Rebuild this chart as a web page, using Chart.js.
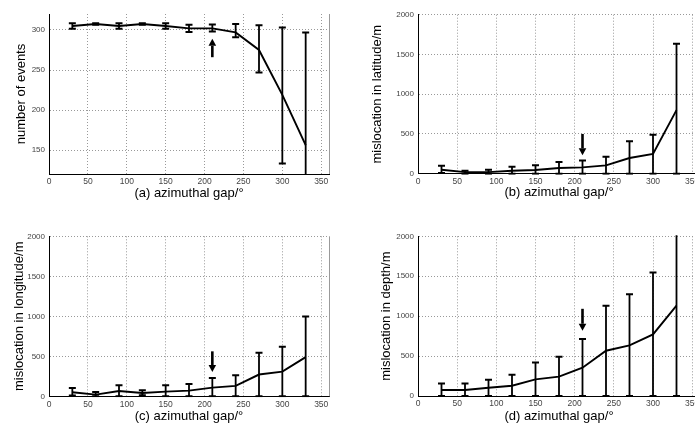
<!DOCTYPE html>
<html><head><meta charset="utf-8">
<script src="https://cdn.jsdelivr.net/npm/chart.js@4"></script>
<style>
html,body{margin:0;padding:0;background:#fff;overflow:hidden;width:695px;height:424px;position:relative;}
canvas{position:absolute;}
</style></head><body>
<canvas id="ca" width="345" height="212" style="left:0;top:0"></canvas>
<canvas id="cb" width="360" height="212" style="left:345px;top:0"></canvas>
<canvas id="cc" width="345" height="212" style="left:0;top:212px"></canvas>
<canvas id="cd" width="360" height="212" style="left:345px;top:212px"></canvas>
<script>
// ---- data ----
const gaps = [30, 60, 90, 120, 150, 180, 210, 240, 270, 300, 330];
const xTicks = [0, 50, 100, 150, 200, 250, 300, 350];
const yTicksEvents = [150, 200, 250, 300];
const yTicksMis = [0, 500, 1000, 1500, 2000];

const eventsMean  = [305, 307.5, 305, 307.5, 305, 302, 302, 297, 275, 219, 156];
const eventsLower = [301.5, 306.5, 301.5, 306.5, 301.5, 297.5, 298, 291, 247, 133, 15];
const eventsUpper = [308.5, 308.5, 308.5, 308.5, 308.5, 306.5, 307, 307.5, 306, 303, 297];

const latMean  = [50, 20, 20, 38, 46, 71, 80, 105, 197, 248, 800];
const latLower = [8, 0, 0, 0, 0, 0, 0, 0, 0, 0, 0];
const latUpper = [100, 38, 50, 88, 105, 147, 165, 214, 408, 491, 1635];

const lonMean  = [50, 21, 67, 42, 58, 71, 108, 130, 272, 308, 490];
const lonLower = [10, 0, 0, 12, 0, 0, 0, 0, 0, 0, 0];
const lonUpper = [104, 54, 137, 75, 137, 154, 229, 262, 543, 618, 998];

const depMean  = [75, 75, 104, 129, 208, 242, 354, 567, 633, 771, 1133];
const depLower = [0, 0, 0, 0, 0, 0, 0, 0, 0, 0, 0];
const depUpper = [158, 158, 204, 267, 421, 492, 713, 1130, 1275, 1546, 2300];

const arrowA = {x: 210, from: 266, to: 289};
const arrowB = {x: 210, from: 500, to: 231};
const arrowC = {x: 210, from: 562, to: 304};
const arrowD = {x: 210, from: 1092, to: 817};

// ---- drawing ----
const FONT = "'Liberation Sans', Arial, Helvetica, sans-serif";

function makePanel(id, o) {
  const errPlugin = {
    id: 'errbars',
    afterDatasetsDraw(chart) {
      const ctx = chart.ctx, a = chart.chartArea;
      const xs = chart.scales.x, ys = chart.scales.y;
      ctx.save();
      // right box edge
      ctx.strokeStyle = '#9a9a9a'; ctx.lineWidth = 1;
      ctx.beginPath(); ctx.moveTo(a.right + 0.5, a.top); ctx.lineTo(a.right + 0.5, a.bottom); ctx.stroke();
      ctx.beginPath(); ctx.rect(a.left, a.top - 1, a.right - a.left, a.bottom - a.top + 2); ctx.clip();
      ctx.strokeStyle = '#000';
      for (let i = 0; i < gaps.length; i++) {
        const px = xs.getPixelForValue(gaps[i]);
        const lo = ys.getPixelForValue(o.lower[i]);
        const hi = ys.getPixelForValue(o.upper[i]);
        ctx.lineWidth = 1.8;
        ctx.beginPath(); ctx.moveTo(px, lo); ctx.lineTo(px, hi); ctx.stroke();
        ctx.lineWidth = 2;
        ctx.beginPath();
        ctx.moveTo(px - 3.5, lo); ctx.lineTo(px + 3.5, lo);
        ctx.moveTo(px - 3.5, hi); ctx.lineTo(px + 3.5, hi);
        ctx.stroke();
      }
      ctx.restore();
      // arrow
      const ar = o.arrow;
      const ax = xs.getPixelForValue(ar.x);
      const y0 = ys.getPixelForValue(ar.from), y1 = ys.getPixelForValue(ar.to);
      const dir = Math.sign(y1 - y0), hl = 7, hw = 3.8;
      ctx.save();
      ctx.strokeStyle = '#000'; ctx.fillStyle = '#000'; ctx.lineWidth = 2.6;
      ctx.beginPath(); ctx.moveTo(ax, y0); ctx.lineTo(ax, y1 - dir * hl); ctx.stroke();
      ctx.beginPath();
      ctx.moveTo(ax - hw, y1 - dir * hl); ctx.lineTo(ax + hw, y1 - dir * hl); ctx.lineTo(ax, y1);
      ctx.closePath(); ctx.fill();
      ctx.restore();
    }
  };
  const gridCommon = {color: '#999', lineWidth: 1, drawTicks: false};
  const borderCommon = {display: true, color: '#000', width: 1, dash: [1, 2]};
  return new Chart(document.getElementById(id), {
    type: 'line',
    data: {
      datasets: [{
        data: gaps.map((g, i) => ({x: g, y: o.mean[i]})),
        borderColor: '#000', borderWidth: 1.9, pointRadius: 0, tension: 0, fill: false
      }]
    },
    options: {
      responsive: false, animation: false, devicePixelRatio: 1,
      layout: {padding: {left: 0, top: o.top, right: o.right, bottom: 0}},
      plugins: {legend: {display: false}, tooltip: {enabled: false}},
      scales: {
        x: {
          type: 'linear', min: 0, max: 360,
          afterBuildTicks: s => { s.ticks = xTicks.map(v => ({value: v})); },
          afterFit: s => { s.height = o.xh; },
          grid: gridCommon, border: borderCommon,
          ticks: {padding: 3, color: '#444', font: {family: FONT, size: 8.5}, maxRotation: 0, autoSkip: false, callback: v => String(v)},
          title: {display: true, text: o.xtitle, color: '#000', font: {family: FONT, size: 13}, padding: {top: 0, bottom: o.xtp}}
        },
        y: {
          type: 'linear', min: o.ymin, max: o.ymax,
          afterBuildTicks: s => { s.ticks = o.yticks.map(v => ({value: v})); },
          afterFit: s => { s.width = o.yw; },
          grid: gridCommon, border: borderCommon,
          ticks: {padding: 4, color: '#444', font: {family: FONT, size: 8}, autoSkip: false, callback: v => String(v)},
          title: {display: true, text: o.ytitle, color: '#000', font: {family: FONT, size: 13}, padding: {top: o.ytp, bottom: 0}}
        }
      }
    },
    plugins: [errPlugin]
  });
}

makePanel('ca', {mean: eventsMean, lower: eventsLower, upper: eventsUpper, arrow: arrowA,
  ymin: 120, ymax: 320, yticks: yTicksEvents, top: 14, right: 16, yw: 49, xh: 38, xtp: 11, ytp: 14,
  xtitle: '(a) azimuthal gap/\u00b0', ytitle: 'number of events'});
makePanel('cb', {mean: latMean, lower: latLower, upper: latUpper, arrow: arrowB,
  ymin: 0, ymax: 2000, yticks: yTicksMis, top: 14.7, right: 5, yw: 73, xh: 38.3, xtp: 12, ytp: 25,
  xtitle: '(b) azimuthal gap/\u00b0', ytitle: 'mislocation in latitude/m'});
makePanel('cc', {mean: lonMean, lower: lonLower, upper: lonUpper, arrow: arrowC,
  ymin: 0, ymax: 2000, yticks: yTicksMis, top: 24.3, right: 16, yw: 49, xh: 27.7, xtp: 0, ytp: 12,
  xtitle: '(c) azimuthal gap/\u00b0', ytitle: 'mislocation in longitude/m'});
makePanel('cd', {mean: depMean, lower: depLower, upper: depUpper, arrow: arrowD,
  ymin: 0, ymax: 2000, yticks: yTicksMis, top: 24.3, right: 5, yw: 73, xh: 28, xtp: 0, ytp: 34,
  xtitle: '(d) azimuthal gap/\u00b0', ytitle: 'mislocation in depth/m'});
</script>
</body></html>
